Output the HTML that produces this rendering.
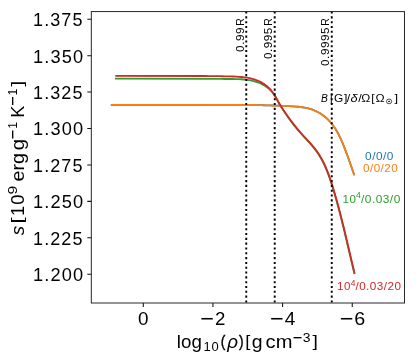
<!DOCTYPE html>
<html><head><meta charset="utf-8"><title>Entropy profile</title>
<style>html,body{margin:0;padding:0;background:#fff;overflow:hidden}svg{display:block}text{font-family:"Liberation Sans",sans-serif}</style></head>
<body>
<svg width="416" height="361" viewBox="0 0 416 361">
<rect x="0" y="0" width="416" height="361" fill="#fff"/>
<g fill="none" stroke-width="1.8" stroke-linejoin="round" stroke-linecap="butt">
<path d="M110.85 104.95L251.08 104.98L253.21 105.02L255.33 105.05L257.46 105.09L259.59 105.14L261.72 105.19L263.85 105.24L265.98 105.29L268.11 105.35L270.24 105.42L272.37 105.48L274.50 105.56L276.63 105.63L278.77 105.71L280.90 105.80L283.03 105.89L285.17 105.99L287.30 106.09L289.44 106.19L291.58 106.31L293.71 106.43L295.84 106.58L297.97 106.75L300.08 106.97L302.18 107.24L304.27 107.57L306.34 107.97L308.39 108.45L310.42 109.02L312.42 109.69L314.39 110.45L316.31 111.31L318.20 112.26L320.04 113.31L321.82 114.45L323.54 115.69L325.19 117.01L326.79 118.41L328.32 119.89L329.78 121.44L331.18 123.05L332.51 124.72L333.78 126.44L334.98 128.20L336.11 130.00L337.19 131.84L338.22 133.71L339.20 135.61L340.13 137.53L341.03 139.47L341.89 141.43L342.73 143.40L343.53 145.38L344.32 147.36L345.09 149.35L345.85 151.33L346.59 153.32L347.32 155.31L348.04 157.31L348.75 159.30L349.46 161.30L350.16 163.30L350.86 165.30L351.55 167.30L352.25 169.30L352.95 171.31L353.65 173.31L354.36 175.32" stroke="#1f77b4"/>
<path d="M110.85 104.95L251.08 104.98L253.21 105.02L255.33 105.05L257.46 105.09L259.59 105.14L261.72 105.19L263.85 105.24L265.98 105.29L268.11 105.35L270.24 105.42L272.37 105.48L274.50 105.56L276.63 105.63L278.77 105.71L280.90 105.80L283.03 105.89L285.17 105.99L287.30 106.09L289.44 106.19L291.58 106.31L293.71 106.43L295.84 106.58L297.97 106.75L300.08 106.97L302.18 107.24L304.27 107.57L306.34 107.97L308.39 108.45L310.42 109.02L312.42 109.69L314.39 110.45L316.31 111.31L318.20 112.26L320.04 113.31L321.82 114.45L323.54 115.69L325.19 117.01L326.79 118.41L328.32 119.89L329.78 121.44L331.18 123.05L332.51 124.72L333.78 126.44L334.98 128.20L336.11 130.00L337.19 131.84L338.22 133.71L339.20 135.61L340.13 137.53L341.03 139.47L341.89 141.43L342.73 143.40L343.53 145.38L344.32 147.36L345.09 149.35L345.85 151.33L346.59 153.32L347.32 155.31L348.04 157.31L348.75 159.30L349.46 161.30L350.16 163.30L350.86 165.30L351.55 167.30L352.25 169.30L352.95 171.31L353.65 173.31L354.36 175.32" stroke="#ff7f0e"/>
<path d="M114.90 78.70L205.09 78.90L207.84 78.91L210.58 78.93L213.33 78.94L216.09 78.95L218.85 78.96L221.62 78.97L224.39 78.98L227.16 78.99L229.94 78.99L232.73 79.01L235.51 79.05L238.28 79.13L241.04 79.27L243.77 79.48L246.49 79.77L249.17 80.16L251.82 80.67L254.43 81.30L256.99 82.09L259.50 83.03L261.96 84.14L264.34 85.45L266.63 86.94L268.79 88.62L270.77 90.50L272.54 92.57L274.10 94.81L275.53 97.16L276.89 99.57L278.25 101.98L279.64 104.36L281.07 106.71L282.52 109.03L284.00 111.33L285.51 113.61L287.04 115.86L288.61 118.09L290.22 120.30L291.85 122.47L293.52 124.63L295.23 126.76L296.98 128.86L298.76 130.94L300.58 133.00L302.44 135.03L304.31 137.06L306.18 139.08L308.04 141.11L309.88 143.15L311.69 145.22L313.44 147.32L315.13 149.46L316.75 151.64L318.28 153.88L319.73 156.18L321.10 158.52L322.39 160.91L323.61 163.34L324.77 165.80L325.87 168.30L326.92 170.83L327.92 173.39L328.87 175.97L329.78 178.57L330.66 181.18L331.51 183.81L332.34 186.44L333.14 189.07L333.93 191.71L334.70 194.35L335.47 196.99L336.21 199.63L336.95 202.27L337.67 204.91L338.38 207.55L339.08 210.20L339.77 212.84L340.45 215.49L341.12 218.14L341.79 220.78L342.45 223.43L343.10 226.08L343.74 228.74L344.38 231.39L345.02 234.04L345.65 236.70L346.28 239.36L346.91 242.02L347.54 244.68L348.16 247.34L348.79 250.00L349.41 252.67L350.04 255.33L350.67 258.00L351.30 260.67L351.93 263.34L352.57 266.02L353.22 268.69L353.87 271.37L354.52 274.05" stroke="#2ca02c"/>
<path d="M115.30 75.90L205.60 76.00L208.35 76.03L211.11 76.06L213.86 76.10L216.63 76.14L219.39 76.19L222.17 76.24L224.95 76.29L227.73 76.35L230.53 76.41L233.32 76.49L236.10 76.61L238.88 76.78L241.63 77.01L244.37 77.32L247.07 77.72L249.73 78.23L252.35 78.86L254.91 79.63L257.43 80.55L259.87 81.64L262.25 82.91L264.55 84.38L266.75 86.02L268.81 87.84L270.73 89.82L272.46 91.95L274.02 94.20L275.45 96.55L276.81 98.95L278.15 101.36L279.51 103.75L280.92 106.11L282.38 108.44L283.88 110.73L285.43 113.00L287.01 115.24L288.62 117.46L290.24 119.66L291.87 121.85L293.52 124.02L295.20 126.17L296.90 128.30L298.65 130.40L300.44 132.47L302.28 134.52L304.14 136.55L306.02 138.58L307.90 140.61L309.75 142.65L311.58 144.71L313.36 146.80L315.08 148.92L316.73 151.10L318.29 153.33L319.76 155.61L321.15 157.95L322.46 160.33L323.69 162.76L324.86 165.22L325.97 167.72L327.02 170.25L328.02 172.81L328.98 175.39L329.89 177.99L330.77 180.61L331.62 183.24L332.45 185.88L333.25 188.52L334.04 191.16L334.82 193.80L335.58 196.45L336.33 199.09L337.07 201.74L337.80 204.38L338.51 207.03L339.22 209.67L339.91 212.32L340.60 214.97L341.28 217.62L341.95 220.27L342.61 222.92L343.27 225.58L343.92 228.23L344.56 230.89L345.20 233.55L345.84 236.21L346.47 238.87L347.10 241.53L347.73 244.19L348.35 246.86L348.97 249.53L349.60 252.20L350.22 254.87L350.84 257.54L351.46 260.22L352.09 262.90L352.72 265.58L353.35 268.26L353.98 270.95L354.62 273.63" stroke="#d62728"/>
</g>
<line x1="246.25" y1="302.5" x2="246.25" y2="11.6" stroke="#000" stroke-width="1.9" stroke-dasharray="2.1 2.715"/>
<line x1="274.7" y1="302.5" x2="274.7" y2="11.6" stroke="#000" stroke-width="1.9" stroke-dasharray="2.1 2.715"/>
<line x1="331.75" y1="302.5" x2="331.75" y2="11.6" stroke="#000" stroke-width="1.9" stroke-dasharray="2.1 2.715"/>
<rect x="91.3" y="11.6" width="313.17" height="291.40" fill="none" stroke="#1c1c1c" stroke-width="0.95"/>
<path d="M91.3 19.23h-4.0M91.3 55.66h-4.0M91.3 92.09h-4.0M91.3 128.52h-4.0M91.3 164.95h-4.0M91.3 201.38h-4.0M91.3 237.81h-4.0M91.3 274.24h-4.0M143.29 303.0v4.0M212.94 303.0v4.0M282.59 303.0v4.0M352.24 303.0v4.0" stroke="#111" stroke-width="1.05" fill="none"/>
<ellipse cx="389.1" cy="101.4" rx="2.6" ry="2.35" fill="none" stroke="#000" stroke-width="0.7"/><ellipse cx="389.1" cy="101.4" rx="0.95" ry="0.55" fill="#000"/>
<g style="mix-blend-mode:multiply">
<text transform="translate(33.08,26.15) scale(0.9472,1.0000)" style="font-size:19.0px;letter-spacing:0.06em" fill="#000">1.375</text>
<text transform="translate(33.06,62.58) scale(0.9592,1.0000)" style="font-size:19.0px;letter-spacing:0.06em" fill="#000">1.350</text>
<text transform="translate(33.08,99.01) scale(0.9472,1.0000)" style="font-size:19.0px;letter-spacing:0.06em" fill="#000">1.325</text>
<text transform="translate(33.06,135.44) scale(0.9592,1.0000)" style="font-size:19.0px;letter-spacing:0.06em" fill="#000">1.300</text>
<text transform="translate(33.08,171.87) scale(0.9472,1.0000)" style="font-size:19.0px;letter-spacing:0.06em" fill="#000">1.275</text>
<text transform="translate(33.06,208.30) scale(0.9592,1.0000)" style="font-size:19.0px;letter-spacing:0.06em" fill="#000">1.250</text>
<text transform="translate(33.08,244.73) scale(0.9472,1.0000)" style="font-size:19.0px;letter-spacing:0.06em" fill="#000">1.225</text>
<text transform="translate(33.06,281.16) scale(0.9592,1.0000)" style="font-size:19.0px;letter-spacing:0.06em" fill="#000">1.200</text>
<text transform="translate(138.09,324.80) scale(0.9927,1.0000)" style="font-size:19.0px" fill="#000">0</text>
<text transform="translate(200.37,326.14) scale(1.2327,1.1625)" style="font-size:19.0px" fill="#000">−</text>
<text transform="translate(215.12,324.80) scale(0.9808,1.0000)" style="font-size:19.0px" fill="#000">2</text>
<text transform="translate(269.97,326.14) scale(1.2327,1.1625)" style="font-size:19.0px" fill="#000">−</text>
<text transform="translate(284.80,324.80) scale(1.0000,1.0000)" style="font-size:19.0px" fill="#000">4</text>
<text transform="translate(339.67,326.14) scale(1.2327,1.1625)" style="font-size:19.0px" fill="#000">−</text>
<text transform="translate(354.26,324.80) scale(1.0385,1.0000)" style="font-size:19.0px" fill="#000">6</text>
<text transform="translate(176.86,347.70) scale(1.0075,1.0000)" style="font-size:18.6px" fill="#000">log</text>
<text transform="translate(203.62,350.60) scale(0.9831,1.0000)" style="font-size:13.2px;letter-spacing:0.05em" fill="#000">10</text>
<text transform="translate(220.86,346.64) scale(0.7241,0.9029)" style="font-size:19.0px" fill="#000" stroke="#000" stroke-width="0.45">(</text>
<text transform="translate(227.30,347.70) scale(1.0095,1.0000)" style="font-size:18.6px;font-style:italic" fill="#000">ρ</text>
<text transform="translate(239.06,346.64) scale(0.7241,0.9029)" style="font-size:19.0px" fill="#000" stroke="#000" stroke-width="0.45">)</text>
<text transform="translate(245.31,346.52) scale(0.9652,0.8943)" style="font-size:19.0px" fill="#000">[</text>
<text transform="translate(251.83,347.70) scale(1.0440,1.0000)" style="font-size:18.6px" fill="#000">g</text>
<text transform="translate(265.60,347.70) scale(1.0809,1.0000)" style="font-size:18.6px" fill="#000">cm</text>
<text transform="translate(292.77,343.86) scale(1.2474,1.4400)" style="font-size:13.2px" fill="#000">−</text>
<text transform="translate(302.77,341.60) scale(1.0579,1.0000)" style="font-size:13.2px" fill="#000">3</text>
<text transform="translate(312.43,346.52) scale(1.0174,0.8943)" style="font-size:19.0px" fill="#000">]</text>
<text transform="translate(23.70,235.17) rotate(-90) scale(1.0038,1.0000)" style="font-size:18.6px;font-style:italic" fill="#000">s</text>
<text transform="translate(22.52,223.57) rotate(-90) scale(1.1739,0.8943)" style="font-size:19.0px" fill="#000">[</text>
<text transform="translate(23.70,215.95) rotate(-90) scale(0.9681,1.0000)" style="font-size:19.0px;letter-spacing:0.05em" fill="#000">10</text>
<text transform="translate(16.60,194.40) rotate(-90) scale(1.2000,1.0000)" style="font-size:13.2px" fill="#000">9</text>
<text transform="translate(23.70,181.49) rotate(-90) scale(1.0631,1.0000)" style="font-size:18.6px" fill="#000">erg</text>
<text transform="translate(23.70,150.31) rotate(-90) scale(1.0920,1.0000)" style="font-size:18.6px" fill="#000">g</text>
<text transform="translate(18.86,139.13) rotate(-90) scale(1.2474,1.4400)" style="font-size:13.2px" fill="#000">−</text>
<text transform="translate(16.60,128.82) rotate(-90) scale(0.9176,1.0000)" style="font-size:13.2px" fill="#000">1</text>
<text transform="translate(23.70,117.63) rotate(-90) scale(0.9508,1.0000)" style="font-size:19.0px" fill="#000">K</text>
<text transform="translate(18.86,105.73) rotate(-90) scale(1.2474,1.4400)" style="font-size:13.2px" fill="#000">−</text>
<text transform="translate(16.60,95.54) rotate(-90) scale(0.9353,1.0000)" style="font-size:13.2px" fill="#000">1</text>
<text transform="translate(22.52,86.79) rotate(-90) scale(1.1478,0.8943)" style="font-size:19.0px" fill="#000">]</text>
<text transform="translate(243.85,51.91) rotate(-90) scale(1.0130,1.0000)" style="font-size:11.6px;letter-spacing:0.045em" fill="#000">0.99</text>
<text transform="translate(243.85,25.81) rotate(-90) scale(0.9073,1.0000)" style="font-size:11.6px" fill="#000">R</text>
<text transform="translate(272.25,58.90) rotate(-90) scale(1.0044,1.0000)" style="font-size:11.6px;letter-spacing:0.045em" fill="#000">0.995</text>
<text transform="translate(272.25,25.81) rotate(-90) scale(0.9073,1.0000)" style="font-size:11.6px" fill="#000">R</text>
<text transform="translate(329.35,65.90) rotate(-90) scale(1.0081,1.0000)" style="font-size:11.6px;letter-spacing:0.045em" fill="#000">0.9995</text>
<text transform="translate(329.35,25.81) rotate(-90) scale(0.9073,1.0000)" style="font-size:11.6px" fill="#000">R</text>
<text transform="translate(320.90,101.90) scale(0.8857,1.0000)" style="font-size:11.6px;font-style:italic" fill="#000">B</text>
<text transform="translate(330.08,101.64) scale(0.9857,0.9469)" style="font-size:11.6px" fill="#000">[</text>
<text transform="translate(333.92,101.90) scale(1.0267,1.0000)" style="font-size:11.6px" fill="#000">G</text>
<text transform="translate(344.12,101.64) scale(1.0615,0.9469)" style="font-size:11.6px" fill="#000">]</text>
<text transform="translate(346.80,101.90) scale(1.0737,1.0000)" style="font-size:11.6px" fill="#000">/</text>
<text transform="translate(350.43,101.90) scale(1.1027,1.0000)" style="font-size:11.6px;font-style:italic" fill="#000">δ</text>
<text transform="translate(358.20,101.90) scale(1.0737,1.0000)" style="font-size:11.6px" fill="#000">/</text>
<text transform="translate(361.28,101.90) scale(1.0435,1.0000)" style="font-size:11.6px" fill="#000">Ω</text>
<text transform="translate(371.24,101.64) scale(1.0286,0.9469)" style="font-size:11.6px" fill="#000">[</text>
<text transform="translate(375.57,101.90) scale(1.0565,1.0000)" style="font-size:11.6px" fill="#000">Ω</text>
<text transform="translate(394.62,101.64) scale(1.1077,0.9469)" style="font-size:11.6px" fill="#000">]</text>
<text transform="translate(365.09,159.50) scale(1.0200,1.0000)" style="font-size:11.6px;letter-spacing:0.04em" fill="#1f77b4">0/0/0</text>
<text transform="translate(363.00,172.40) scale(1.0040,1.0000)" style="font-size:11.6px;letter-spacing:0.04em" fill="#ff7f0e">0/0/20</text>
<text transform="translate(342.57,202.60) scale(1.0000,1.0000)" style="font-size:11.6px;letter-spacing:0.04em" fill="#2ca02c">10</text>
<text transform="translate(356.12,197.70) scale(1.0560,1.0000)" style="font-size:8.2px" fill="#2ca02c">4</text>
<text transform="translate(361.00,202.60) scale(1.0269,1.0000)" style="font-size:11.6px;letter-spacing:0.04em" fill="#2ca02c">/0.03/0</text>
<text transform="translate(337.07,290.40) scale(1.0000,1.0000)" style="font-size:11.6px;letter-spacing:0.04em" fill="#d62728">10</text>
<text transform="translate(350.73,286.10) scale(1.0320,1.0000)" style="font-size:8.2px" fill="#d62728">4</text>
<text transform="translate(355.40,290.40) scale(1.0119,1.0000)" style="font-size:11.6px;letter-spacing:0.04em" fill="#d62728">/0.03/20</text>
</g>
</svg>
</body></html>
